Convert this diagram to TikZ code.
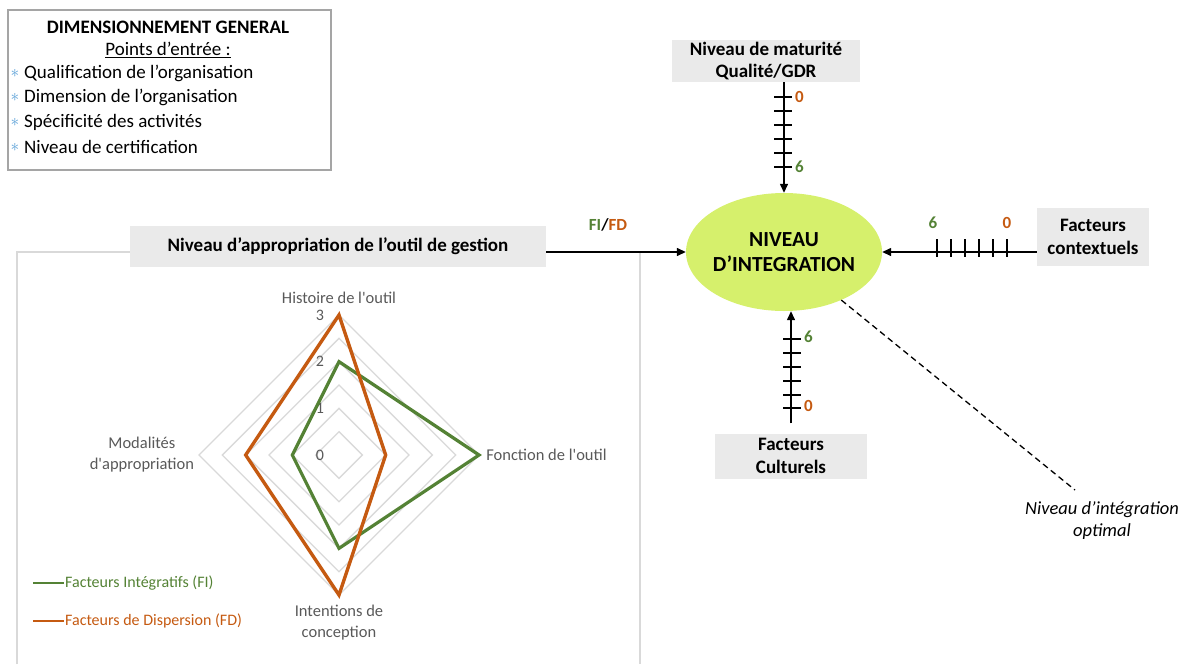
\documentclass[tikz,border=0pt]{standalone}
\usepackage{fontspec}
\setmainfont{Carlito}
\usepackage{tikz}
\usetikzlibrary{arrows.meta,calc,positioning,shapes.geometric}
\definecolor{dimgreen}{RGB}{84,130,53}
\definecolor{dimorange}{RGB}{197,90,17}
\definecolor{dimlime}{RGB}{214,240,108}
\definecolor{dimbox}{RGB}{234,234,234}
\definecolor{dimgrid}{RGB}{217,217,217}
\definecolor{dimtext}{RGB}{89,89,89}
\definecolor{dimblue}{RGB}{90,160,215}
\definecolor{dimframe}{RGB}{165,165,165}

\begin{document}
\begin{tikzpicture}[x=1pt, y=-1pt,
      labelbox/.style={fill=dimbox, align=center, font=\fontsize{19}{22.5}\selectfont\bfseries, inner sep=0pt},
      axisarrow/.style={line width=1.4pt, -{Triangle[length=9pt,width=8pt]}},
      tickmark/.style={line width=1.2pt},
      scalenum/.style={font=\fontsize{17}{19}\selectfont\bfseries, inner sep=1pt},
      bulletline/.style={anchor=west, font=\fontsize{19}{22}\selectfont, inner sep=0pt},
      radarlabel/.style={text=dimtext, font=\fontsize{16.5}{21}\selectfont, align=center, inner sep=1pt},
      gridline/.style={draw=dimgrid, line width=1.3pt},
      legendtext/.style={anchor=west, font=\fontsize{16}{18}\selectfont, inner sep=0pt}
    ]
      \useasboundingbox (0,0) rectangle (1186,664);

      % Dimensionnement general
      \node[draw=dimframe, line width=1.3pt, minimum width=323pt, minimum height=160pt] (dimgen) at (169.5,90) {};
      \node[font=\fontsize{19}{22}\selectfont\bfseries] (dimtitle) at (168,27) {DIMENSIONNEMENT GENERAL};
      \node[font=\fontsize{19}{22}\selectfont] (dimentry) at (168,50) {\underline{Points d’entrée :}};
      \foreach \y/\txt [count=\i] in {73/Qualification de l’organisation, 97/Dimension de l’organisation, 122/Spécificité des activités, 147/Niveau de certification} {
        \node[text=dimblue, font=\fontsize{16}{16}\selectfont, inner sep=0pt] (star\i) at (15,\y) {$\ast$};
        \node[bulletline] (item\i) at (24,\y) {\txt};
      }

      % Cadre du radar
      \draw[draw=dimgrid, line width=1.3pt] (17,664) -- (17,252) -- (640,252) -- (640,664);

      % Niveau d'integration
      \node[ellipse, fill=dimlime, minimum width=196pt, minimum height=118pt, inner sep=0pt] (integ) at (784,252) {};
      \node[align=center, font=\fontsize{21.5}{25}\selectfont\bfseries] (integtext) at (integ) {NIVEAU\\D’INTEGRATION};

      \node[labelbox, minimum width=416pt, minimum height=41pt] (approp) at (338,246) {Niveau d’appropriation de l’outil de gestion};
      \node[labelbox, minimum width=188pt, minimum height=42pt] (matur) at (766,61) {Niveau de maturité\\Qualité/GDR};
      \node[labelbox, minimum width=112pt, minimum height=58pt] (context) at (1093,237) {Facteurs\\contextuels};
      \node[labelbox, minimum width=152pt, minimum height=45pt] (cult) at (791,456) {Facteurs\\Culturels};

      % Fleches
      \draw[axisarrow] (approp.east |- integ.west) -- (integ.west);
      \node[scalenum] (fifd) at (608,225) {\textcolor{dimgreen}{FI}/\textcolor{dimorange}{FD}};

      \draw[axisarrow] (integ.north |- matur.south) -- (integ.north);
      \foreach \y in {97,111,125,139,153,167}
        \draw[tickmark] (774,\y) -- (792,\y);
      \node[scalenum, text=dimorange, anchor=west] (topzero) at (794,97) {0};
      \node[scalenum, text=dimgreen, anchor=west] (topsix) at (794,167) {6};

      \draw[axisarrow] (context.west |- integ.east) -- (integ.east);
      \foreach \x in {937,951,965,979,993,1007}
        \draw[tickmark] (\x,239) -- (\x,257);
      \node[scalenum, text=dimgreen] (rightsix) at (933,223) {6};
      \node[scalenum, text=dimorange] (rightzero) at (1007,223) {0};

      \draw[axisarrow, shorten <=10pt] (cult.north) -- (cult.north |- integ.south);
      \foreach \y in {339,353,367,381,395,408}
        \draw[tickmark] (783,\y) -- (801,\y);
      \node[scalenum, text=dimgreen, anchor=west] (botsix) at (803,337) {6};
      \node[scalenum, text=dimorange, anchor=west] (botzero) at (803,406) {0};

      % Niveau optimal
      \coordinate (optend) at (1075,490);
      \draw[line width=1.3pt, dash pattern=on 6pt off 4pt] (integ.-40) -- (optend);
      \node[font=\fontsize{18.5}{22}\selectfont\itshape, align=center] (optim) at (1102,521) {Niveau d’intégration\\optimal};

      % Radar
      \begin{scope}[shift={(339,455)}, x=46.67pt, y=-46.67pt]
        \foreach \r in {0.5,1,...,3}
          \draw[gridline] (0,-\r) -- (\r,0) -- (0,\r) -- (-\r,0) -- cycle;
        \foreach \v in {0,1,2,3}
          \node[text=dimtext, font=\fontsize{16}{18}\selectfont] (scale\v) at (-0.41,-\v) {\v};
        \draw[dimgreen, line width=3.2pt, line join=miter] (0,-2) -- (3,0) -- (0,2) -- (-1,0) -- cycle;
        \draw[dimorange, line width=3.4pt, line join=miter] (0,-3) -- (1,0) -- (0,3) -- (-2,0) -- cycle;
        \node[radarlabel] (histoire) at (0,-3.37) {Histoire de l\textquotesingle outil};
        \node[radarlabel, anchor=west] (fonction) at (3.13,0) {Fonction de l\textquotesingle outil};
        \node[radarlabel] (intention) at (0,3.59) {Intentions de\\conception};
        \node[radarlabel, anchor=east] (modalite) at (-3.08,0) {Modalités\\d\textquotesingle appropriation};
      \end{scope}

      % Legende
      \draw[dimgreen, line width=2.6pt] (33,583) -- (64,583);
      \node[legendtext, text=dimgreen] (legfi) at (65,583) {Facteurs Intégratifs (FI)};
      \draw[dimorange, line width=2.6pt] (33,621) -- (64,621);
      \node[legendtext, text=dimorange] (legfd) at (65,621) {Facteurs de Dispersion (FD)};
    \end{tikzpicture}
\end{document}
